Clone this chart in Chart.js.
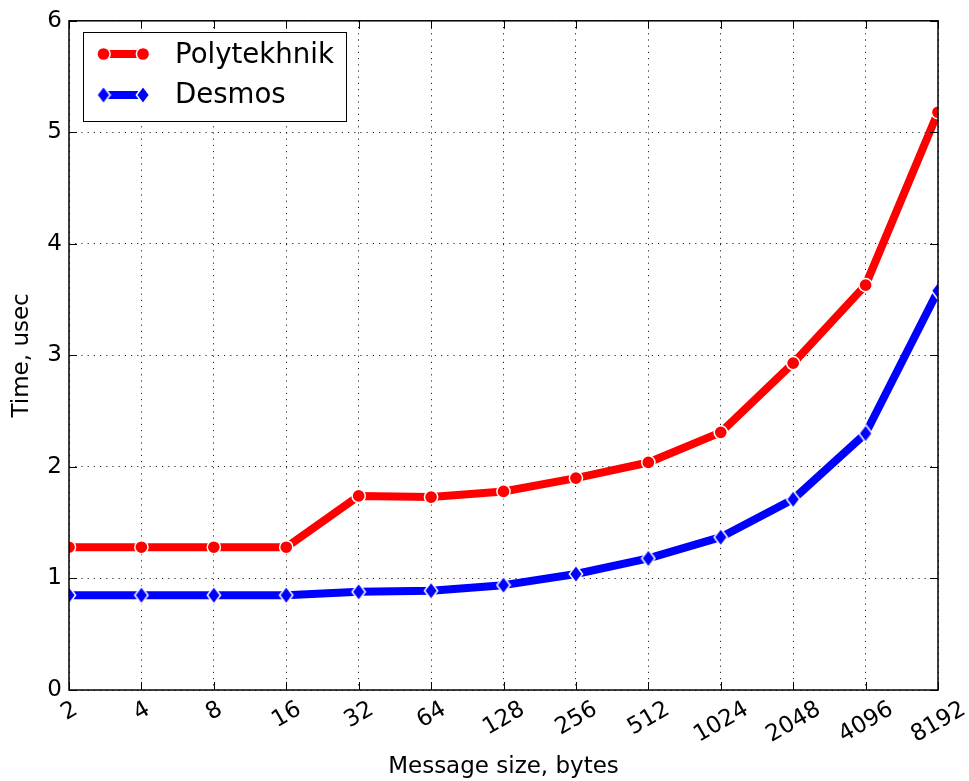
<!DOCTYPE html>
<html><head><meta charset="utf-8">
<script src="https://cdn.jsdelivr.net/npm/chart.js@4.4.1/dist/chart.umd.min.js"></script>
<style>html,body{margin:0;padding:0;background:#fff;}</style>
</head><body>
<canvas id="c" width="969" height="781" style="display:block;width:969px;height:781px"></canvas>
<script>
const messageSizes = ['2','4','8','16','32','64','128','256','512','1024','2048','4096','8192'];
const polytekhnik = [1.28,1.28,1.28,1.28,1.74,1.73,1.78,1.90,2.04,2.31,2.93,3.63,5.18];
const desmos      = [0.85,0.85,0.85,0.85,0.88,0.89,0.94,1.04,1.18,1.37,1.71,2.30,3.58];
const yTickValues = [0,1,2,3,4,5,6];
const seriesNames = ['Polytekhnik','Desmos'];

const FONT = '"DejaVu Sans", sans-serif';
const RED = '#ff0000', BLUE = '#0000ff';

function makeDiamond(){
  const c = document.createElement('canvas');
  c.width = 16; c.height = 20;
  const g = c.getContext('2d');
  g.beginPath();
  g.moveTo(8,1.2); g.lineTo(14.6,10); g.lineTo(8,18.8); g.lineTo(1.4,10); g.closePath();
  g.fillStyle = BLUE; g.fill();
  g.lineWidth = 1.5; g.strokeStyle = '#fff'; g.stroke();
  return c;
}
const diamond = makeDiamond();

const decorPlugin = {
  id: 'decor',
  afterDraw(chart){
    const {ctx, chartArea:a, scales:{x, y}} = chart;
    ctx.save();
    // inward ticks on all sides
    ctx.strokeStyle = '#000'; ctx.lineWidth = 1;
    ctx.beginPath();
    x.ticks.forEach((t,i)=>{
      const px = Math.round(x.getPixelForTick(i)) + 0.5;
      ctx.moveTo(px, a.bottom); ctx.lineTo(px, a.bottom - 8);
      ctx.moveTo(px, a.top); ctx.lineTo(px, a.top + 8);
    });
    y.ticks.forEach((t,i)=>{
      const py = Math.round(y.getPixelForTick(i)) + 0.5;
      ctx.moveTo(a.left, py); ctx.lineTo(a.left + 8, py);
      ctx.moveTo(a.right, py); ctx.lineTo(a.right - 8, py);
    });
    ctx.stroke();
    // frame
    ctx.lineWidth = 1.5;
    ctx.strokeRect(a.left, a.top, a.right - a.left, a.bottom - a.top);

    // rotated x tick labels, centred under ticks
    ctx.font = '23px ' + FONT;
    ctx.fillStyle = '#000';
    ctx.textAlign = 'center'; ctx.textBaseline = 'middle';
    const th = Math.PI / 6;
    messageSizes.forEach((lab, i)=>{
      const px = x.getPixelForTick(i);
      const w = ctx.measureText(lab).width, h = 23;
      const bh = w * Math.sin(th) + h * Math.cos(th);
      const cy = a.bottom + 7 + bh / 2;
      ctx.save();
      ctx.translate(px, cy);
      ctx.rotate(-th);
      ctx.fillText(lab, 0, 1);
      ctx.restore();
    });

    // legend
    const lx = 83.5, ly = 32.5, lw = 263, lh = 89;
    ctx.fillStyle = '#fff';
    ctx.fillRect(lx, ly, lw, lh);
    ctx.lineWidth = 1; ctx.strokeStyle = '#000';
    ctx.strokeRect(lx, ly, lw, lh);
    const rows = [
      {y: 54, color: RED, name: seriesNames[0], base: 63, type: 'circle'},
      {y: 95, color: BLUE, name: seriesNames[1], base: 103, type: 'diamond'}
    ];
    rows.forEach(r=>{
      ctx.strokeStyle = r.color; ctx.lineWidth = 8; ctx.lineCap = 'butt';
      ctx.beginPath(); ctx.moveTo(103.5, r.y); ctx.lineTo(143, r.y); ctx.stroke();
      [103.5, 143].forEach(mx=>{
        if (r.type === 'circle'){
          ctx.beginPath(); ctx.arc(mx, r.y, 6.6, 0, Math.PI*2);
          ctx.fillStyle = r.color; ctx.fill();
          ctx.lineWidth = 1.5; ctx.strokeStyle = '#fff'; ctx.stroke();
        } else {
          ctx.drawImage(diamond, mx - 8, r.y - 10);
        }
      });
      ctx.fillStyle = '#000';
      ctx.font = '27.6px ' + FONT;
      ctx.textAlign = 'left'; ctx.textBaseline = 'alphabetic';
      ctx.fillText(r.name, 175, r.base);
    });
    ctx.restore();
  }
};

new Chart(document.getElementById('c'), {
  type: 'line',
  data: {
    labels: messageSizes,
    datasets: [
      {label: seriesNames[0], data: polytekhnik, borderColor: RED, backgroundColor: RED,
       borderWidth: 8, pointStyle: 'circle', pointRadius: 6.6, pointBorderWidth: 1.5,
       pointBorderColor: '#fff', pointBackgroundColor: RED, tension: 0, clip: 0,
       borderJoinStyle: 'round'},
      {label: seriesNames[1], data: desmos, borderColor: BLUE, backgroundColor: BLUE,
       borderWidth: 8, pointStyle: diamond, pointRadius: 7, tension: 0, clip: 0,
       borderJoinStyle: 'round'}
    ]
  },
  options: {
    responsive: false,
    animation: false,
    devicePixelRatio: 1,
    layout: {padding: {left: 0, right: 31, top: 18, bottom: 0}, autoPadding: false},
    plugins: {legend: {display: false}, tooltip: {enabled: false}},
    scales: {
      x: {
        type: 'category',
        offset: false,
        afterFit(s){ s.height = 91; },
        ticks: {display: false},
        grid: {display: true, color: 'rgba(0,0,0,0.85)', lineWidth: 1, drawTicks: false},
        border: {display: false, dash: [1.2, 5]},
        title: {display: true, text: 'Message size, bytes', color: '#000',
                font: {family: FONT, size: 23}, padding: {top: 0, bottom: 0}}
      },
      y: {
        min: 0, max: 6,
        afterFit(s){ s.width = 69; },
        afterBuildTicks(s){ s.ticks = yTickValues.map(v=>({value: v})); },
        ticks: {stepSize: 1, color: '#000', padding: 7, font: {family: FONT, size: 23}},
        grid: {display: true, color: 'rgba(0,0,0,0.85)', lineWidth: 1, drawTicks: false},
        border: {display: false, dash: [1.2, 5]},
        title: {display: true, text: 'Time, usec', color: '#000',
                font: {family: FONT, size: 23}, padding: {top: 8, bottom: 0}}
      }
    }
  },
  plugins: [decorPlugin]
});
</script>
</body></html>
